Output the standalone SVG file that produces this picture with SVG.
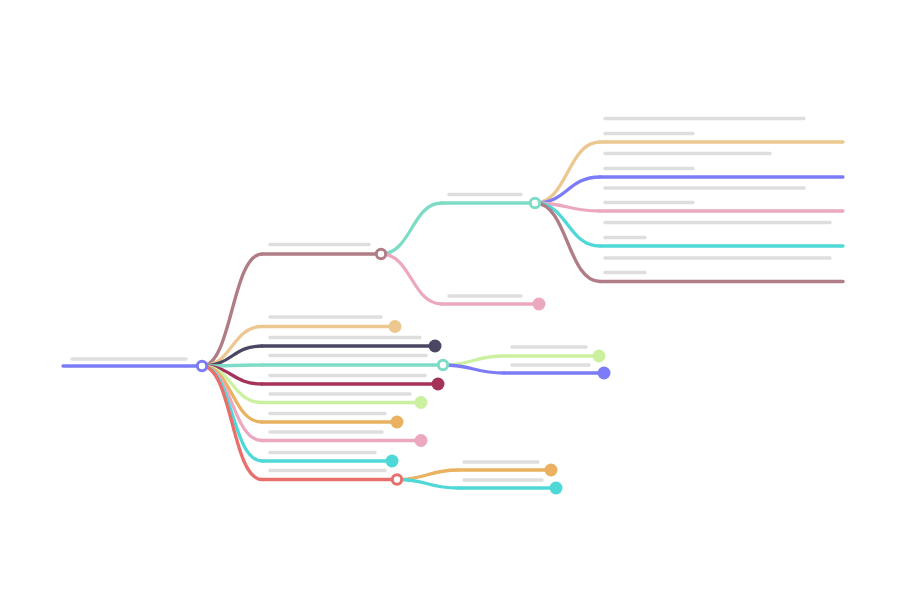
<svg xmlns="http://www.w3.org/2000/svg" width="906" height="612" viewBox="0 0 906 612">
<style>
.l{fill:none;stroke-width:3.3;stroke-linecap:round}
.b{stroke:#dedede;stroke-width:3.5;stroke-linecap:round}
.h{fill:#fff;stroke-width:3}
</style>
<rect width="906" height="612" fill="#fff"/>
<g id="connectors" class="links">
<path class="l" stroke="#b07c85" d="M202,366 C232,366 232,254 262,254"/>
<path class="l" stroke="#ecc78f" d="M202,366 C232,366 232,326.5 262,326.5"/>
<path class="l" stroke="#4b4662" d="M202,366 C232,366 232,346 262,346"/>
<path class="l" stroke="#7edcc6" d="M202,366 C232,366 232,365 262,365"/>
<path class="l" stroke="#a4325a" d="M202,366 C232,366 232,384 262,384"/>
<path class="l" stroke="#caf0a0" d="M202,366 C232,366 232,402.5 262,402.5"/>
<path class="l" stroke="#e9b160" d="M202,366 C232,366 232,422 262,422"/>
<path class="l" stroke="#eca8c0" d="M202,366 C232,366 232,440.5 262,440.5"/>
<path class="l" stroke="#4fd8d8" d="M202,366 C232,366 232,461 262,461"/>
<path class="l" stroke="#e86f6b" d="M202,366 C232,366 232,479.5 262,479.5"/>
<path class="l" stroke="#7edcc6" d="M381,254 C411.5,254 411.5,203 442,203"/>
<path class="l" stroke="#eca8c0" d="M381,254 C411.5,254 411.5,304 442,304"/>
<path class="l" stroke="#ecc78f" d="M535,203 C567.5,203 567.5,142 600,142"/>
<path class="l" stroke="#7c7cf8" d="M535,203 C567.5,203 567.5,177 600,177"/>
<path class="l" stroke="#eca8c0" d="M535,203 C567.5,203 567.5,211 600,211"/>
<path class="l" stroke="#4fd8d8" d="M535,203 C567.5,203 567.5,246 600,246"/>
<path class="l" stroke="#b07c85" d="M535,203 C567.5,203 567.5,281.5 600,281.5"/>
<path class="l" stroke="#caf0a0" d="M443,365 C473.5,365 473.5,356 504,356"/>
<path class="l" stroke="#7c7cf8" d="M443,365 C473.5,365 473.5,373 504,373"/>
<path class="l" stroke="#e9b160" d="M397,479.5 C427.5,479.5 427.5,470 458,470"/>
<path class="l" stroke="#4fd8d8" d="M397,479.5 C427.5,479.5 427.5,488 458,488"/>
</g>
<g id="root"><line class="l" stroke="#7c7cf8" x1="63" y1="366" x2="202" y2="366"/><line class="b" x1="72" y1="359" x2="186" y2="359"/><circle class="h" stroke="#7c7cf8" cx="202" cy="366" r="4.7"/></g>
<g id="n1"><line class="l" stroke="#b07c85" x1="262" y1="254" x2="381" y2="254"/><line class="b" x1="270" y1="244.5" x2="369" y2="244.5"/><circle class="h" stroke="#b07c85" cx="381" cy="254" r="4.7"/></g>
<g id="n2"><line class="l" stroke="#ecc78f" x1="262" y1="326.5" x2="395" y2="326.5"/><line class="b" x1="270" y1="317" x2="381" y2="317"/><circle fill="#ecc78f" cx="395" cy="326.5" r="6.5"/></g>
<g id="n3"><line class="l" stroke="#4b4662" x1="262" y1="346" x2="435" y2="346"/><line class="b" x1="270" y1="337.5" x2="420" y2="337.5"/><circle fill="#4b4662" cx="435" cy="346" r="6.5"/></g>
<g id="n4"><line class="l" stroke="#7edcc6" x1="262" y1="365" x2="443" y2="365"/><line class="b" x1="270" y1="355.5" x2="426" y2="355.5"/><circle class="h" stroke="#7edcc6" cx="443" cy="365" r="4.7"/></g>
<g id="n5"><line class="l" stroke="#a4325a" x1="262" y1="384" x2="438" y2="384"/><line class="b" x1="270" y1="375.5" x2="425" y2="375.5"/><circle fill="#a4325a" cx="438" cy="384" r="6.5"/></g>
<g id="n6"><line class="l" stroke="#caf0a0" x1="262" y1="402.5" x2="421" y2="402.5"/><line class="b" x1="270" y1="394" x2="410" y2="394"/><circle fill="#caf0a0" cx="421" cy="402.5" r="6.5"/></g>
<g id="n7"><line class="l" stroke="#e9b160" x1="262" y1="422" x2="397" y2="422"/><line class="b" x1="270" y1="413.5" x2="385" y2="413.5"/><circle fill="#e9b160" cx="397" cy="422" r="6.5"/></g>
<g id="n8"><line class="l" stroke="#eca8c0" x1="262" y1="440.5" x2="421" y2="440.5"/><line class="b" stroke="#e4dde0" x1="270" y1="432" x2="382" y2="432"/><circle fill="#eca8c0" cx="421" cy="440.5" r="6.5"/></g>
<g id="n9"><line class="l" stroke="#4fd8d8" x1="262" y1="461" x2="392" y2="461"/><line class="b" x1="270" y1="452.5" x2="375" y2="452.5"/><circle fill="#4fd8d8" cx="392" cy="461" r="6.5"/></g>
<g id="n10"><line class="l" stroke="#e86f6b" x1="262" y1="479.5" x2="397" y2="479.5"/><line class="b" x1="270" y1="470.5" x2="385" y2="470.5"/><circle class="h" stroke="#e86f6b" cx="397" cy="479.5" r="4.7"/></g>
<g id="n1a"><line class="l" stroke="#7edcc6" x1="442" y1="203" x2="535" y2="203"/><line class="b" x1="449" y1="194.5" x2="521" y2="194.5"/><circle class="h" stroke="#7edcc6" cx="535" cy="203" r="4.7"/></g>
<g id="n1b"><line class="l" stroke="#eca8c0" x1="442" y1="304" x2="539" y2="304"/><line class="b" x1="449" y1="296" x2="521" y2="296"/><circle fill="#eca8c0" cx="539" cy="304" r="6.5"/></g>
<g id="n1a1"><line class="l" stroke="#ecc78f" x1="600" y1="142" x2="843" y2="142"/><line class="b" x1="605" y1="118.5" x2="804" y2="118.5"/><line class="b" x1="605" y1="133.5" x2="693" y2="133.5"/></g>
<g id="n1a2"><line class="l" stroke="#7c7cf8" x1="600" y1="177" x2="843" y2="177"/><line class="b" x1="605" y1="153.5" x2="770" y2="153.5"/><line class="b" x1="605" y1="168.5" x2="693" y2="168.5"/></g>
<g id="n1a3"><line class="l" stroke="#eca8c0" x1="600" y1="211" x2="843" y2="211"/><line class="b" x1="605" y1="188" x2="804" y2="188"/><line class="b" x1="605" y1="202.5" x2="693" y2="202.5"/></g>
<g id="n1a4"><line class="l" stroke="#4fd8d8" x1="600" y1="246" x2="843" y2="246"/><line class="b" x1="605" y1="222.5" x2="830" y2="222.5"/><line class="b" x1="605" y1="237.5" x2="645" y2="237.5"/></g>
<g id="n1a5"><line class="l" stroke="#b07c85" x1="600" y1="281.5" x2="843" y2="281.5"/><line class="b" x1="605" y1="258" x2="830" y2="258"/><line class="b" x1="605" y1="272.5" x2="645" y2="272.5"/></g>
<g id="n4a"><line class="l" stroke="#caf0a0" x1="504" y1="356" x2="599" y2="356"/><line class="b" x1="512" y1="347" x2="586" y2="347"/><circle fill="#caf0a0" cx="599" cy="356" r="6.5"/></g>
<g id="n4b"><line class="l" stroke="#7c7cf8" x1="504" y1="373" x2="604" y2="373"/><line class="b" x1="512" y1="365" x2="589" y2="365"/><circle fill="#7c7cf8" cx="604" cy="373" r="6.5"/></g>
<g id="n10a"><line class="l" stroke="#e9b160" x1="458" y1="470" x2="551" y2="470"/><line class="b" x1="464" y1="462" x2="538" y2="462"/><circle fill="#e9b160" cx="551" cy="470" r="6.5"/></g>
<g id="n10b"><line class="l" stroke="#4fd8d8" x1="458" y1="488" x2="556" y2="488"/><line class="b" x1="464" y1="480" x2="542" y2="480"/><circle fill="#4fd8d8" cx="556" cy="488" r="6.5"/></g>
</svg>
